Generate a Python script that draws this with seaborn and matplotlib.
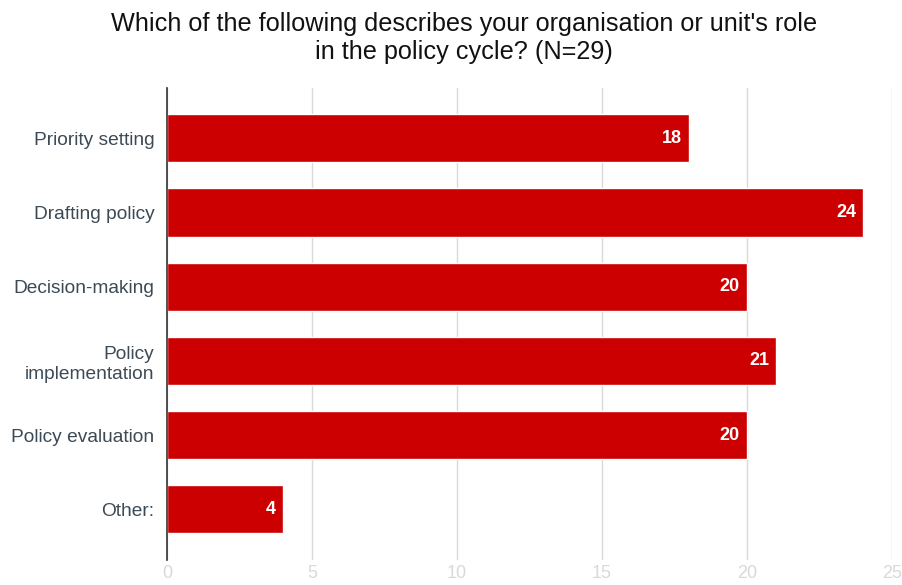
import pandas as pd
import matplotlib.pyplot as plt
import seaborn as sns

# Survey data
roles = ["Priority setting", "Drafting policy", "Decision-making",
         "Policy\nimplementation", "Policy evaluation", "Other:"]
counts = [18, 24, 20, 21, 20, 4]
x_ticks = [0, 5, 10, 15, 20, 25]

df = pd.DataFrame({"role": roles, "count": counts})

sns.set_style("white")
plt.rcParams['font.family'] = ['Liberation Sans', 'DejaVu Sans']

fig = plt.figure(figsize=(9.03, 5.85), dpi=100)
ax = fig.add_axes([0.185, 0.043, 0.803, 0.807])

sns.barplot(data=df, x="count", y="role", color="#cc0000", width=0.65,
            saturation=1, ax=ax, zorder=3)

# Value labels inside bar ends
for i, v in enumerate(counts):
    ax.text(v - 0.25, i, str(v), ha="right", va="center", color="white",
            fontsize=13, fontweight="bold", zorder=4)

ax.set_xlim(0, 25)
ax.set_ylim(5.68, -0.68)
ax.set_xticks(x_ticks)
ax.set_xticklabels([str(t) for t in x_ticks], color="#d9d9d9", fontsize=13)
ax.tick_params(axis="x", length=0, pad=4)
ax.tick_params(axis="y", length=0, pad=9, labelsize=13.8, labelcolor="#3c4a55")
ax.grid(axis="x", color="#d9d9d9", linewidth=1, zorder=0)
ax.set_xlabel("")
ax.set_ylabel("")
for s in ["top", "right", "bottom"]:
    ax.spines[s].set_visible(False)
ax.spines["left"].set_color("#333333")
ax.spines["left"].set_linewidth(1.2)
ax.spines["left"].set_zorder(5)

fig.suptitle("Which of the following describes your organisation or unit's role\nin the policy cycle? (N=29)",
             fontsize=18.2, x=0.514, y=0.98, color="#111111", linespacing=1.2)

plt.savefig("out.png", dpi=100)
